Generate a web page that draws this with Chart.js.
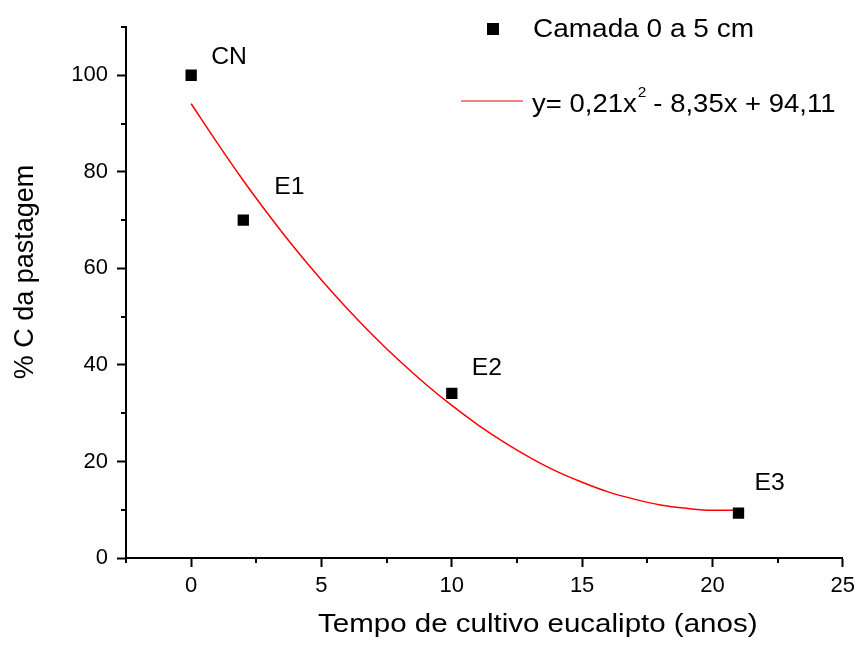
<!DOCTYPE html>
<html>
<head>
<meta charset="utf-8">
<script src="https://cdn.jsdelivr.net/npm/chart.js@4"></script>
<style>
  html, body { margin: 0; padding: 0; background: #fff; }
  #wrap { width: 861px; height: 646px; position: relative; }
</style>
</head>
<body>
<div id="wrap"><canvas id="chart"></canvas></div>
<script>
// measured points (anos, % C)
const pointX = [0, 2, 10, 21];
const pointY = [100, 70, 34.1, 9.3];
const pointLabels = ['CN', 'E1', 'E2', 'E3'];

// fitted curve
const curveX = [0, 1, 2, 3, 4, 5, 6, 7, 8, 9, 10, 11, 12, 13, 14, 15, 16, 17, 18, 19, 20, 21];
const curveY = [94.1, 86.0, 78.2, 70.9, 64.0, 57.6, 51.6, 46.0, 40.8, 36.0, 31.6, 27.6, 24.0, 20.8, 18.0, 15.7, 13.7, 12.2, 11.0, 10.3, 9.9, 9.9];

// tick positions
const xMajorTicks = [0, 5, 10, 15, 20, 25];
const yMajorTicks = [0, 20, 40, 60, 80, 100];
const xMinorTicks = [-2.5, 2.5, 7.5, 12.5, 17.5, 22.5];
const yMinorTicks = [10, 30, 50, 70, 90, 110];

const legendText = 'Camada 0 a 5 cm';
const xTitle = 'Tempo de cultivo eucalipto (anos)';
const yTitle = '% C da pastagem';

const FONT = '"Liberation Sans", Arial, sans-serif';
// label offsets from the point, px (dx, baseline dy)
const labelOffsets = [[20, -11], [31, -26], [20, -18], [16, -23]];

function stretchText(ctx, text, x, y, size, sx) {
    ctx.save();
    ctx.font = size + 'px ' + FONT;
    ctx.translate(x, y);
    ctx.scale(sx, 1);
    ctx.fillText(text, 0, 0);
    const w = ctx.measureText(text).width * sx;
    ctx.restore();
    return w;
}

const decorPlugin = {
    id: 'decor',
    afterDatasetsDraw(chart) {
        const ctx = chart.ctx;
        const xs = chart.scales.x, ys = chart.scales.y;
        const area = chart.chartArea;
        ctx.save();
        ctx.fillStyle = '#000';
        ctx.strokeStyle = '#000';
        ctx.textBaseline = 'alphabetic';
        ctx.textAlign = 'left';

        // minor ticks
        ctx.lineWidth = 2;
        ctx.beginPath();
        xMinorTicks.forEach(v => {
            const px = Math.round(xs.getPixelForValue(v));
            ctx.moveTo(px, area.bottom);
            ctx.lineTo(px, area.bottom + 5);
        });
        yMinorTicks.forEach(v => {
            const py = Math.round(ys.getPixelForValue(v));
            ctx.moveTo(area.left, py);
            ctx.lineTo(area.left - 5, py);
        });
        ctx.stroke();

        // point labels
        pointLabels.forEach((lab, i) => {
            const px = xs.getPixelForValue(pointX[i]);
            const py = ys.getPixelForValue(pointY[i]);
            stretchText(ctx, lab, px + labelOffsets[i][0], py + labelOffsets[i][1], 24, 1.03);
        });

        // legend
        ctx.fillRect(487, 23, 12, 12);
        stretchText(ctx, legendText, 533, 37, 25, 1.12);
        ctx.strokeStyle = '#ff0000';
        ctx.lineWidth = 1.2;
        ctx.beginPath();
        ctx.moveTo(461, 101);
        ctx.lineTo(523, 101);
        ctx.stroke();
        let w = stretchText(ctx, 'y= 0,21x', 532, 112, 25, 1.1);
        stretchText(ctx, '2', 532 + w + 1, 97, 14, 1.1);
        stretchText(ctx, ' - 8,35x + 94,11', 532 + w + 9, 112, 25, 1.1);

        // axis titles
        stretchText(ctx, xTitle, area.left + 192, 632, 25, 1.18);
        ctx.save();
        ctx.font = '27px ' + FONT;
        ctx.translate(33, 272);
        ctx.rotate(-Math.PI / 2);
        ctx.textAlign = 'center';
        ctx.fillText(yTitle, 0, 0);
        ctx.restore();

        ctx.restore();
    }
};

const pointData = pointX.map((x, i) => ({ x: x, y: pointY[i] }));
const curveData = curveX.map((x, i) => ({ x: x, y: curveY[i] }));

new Chart(document.getElementById('chart'), {
    type: 'scatter',
    data: {
        datasets: [{
            label: legendText,
            data: pointData,
            pointStyle: 'rect',
            pointRadius: 8,
            pointBorderWidth: 0,
            backgroundColor: '#000',
            borderColor: '#000',
            showLine: false
        }, {
            label: 'ajuste',
            data: curveData,
            showLine: true,
            pointRadius: 0,
            borderColor: '#ff0000',
            borderWidth: 1.5,
            cubicInterpolationMode: 'monotone',
            fill: false
        }]
    },
    options: {
        responsive: true,
        maintainAspectRatio: false,
        animation: false,
        layout: { padding: { top: 27, right: 14, left: 0, bottom: 0 } },
        plugins: {
            legend: { display: false },
            tooltip: { enabled: false }
        },
        scales: {
            x: {
                type: 'linear',
                min: -2.5,
                max: 25,
                afterFit: s => { s.height = 88; },
                afterBuildTicks: s => { s.ticks = xMajorTicks.map(v => ({ value: v })); },
                ticks: {
                    color: '#000',
                    padding: 6,
                    maxRotation: 0,
                    autoSkip: false,
                    font: { family: FONT, size: 22 }
                },
                grid: {
                    drawOnChartArea: false,
                    tickLength: 9,
                    tickWidth: 2,
                    tickColor: '#000'
                },
                border: { display: true, color: '#000', width: 2 }
            },
            y: {
                min: 0,
                max: 110,
                afterFit: s => { s.width = 126; },
                afterBuildTicks: s => { s.ticks = yMajorTicks.map(v => ({ value: v })); },
                ticks: {
                    color: '#000',
                    padding: 9,
                    autoSkip: false,
                    font: { family: FONT, size: 22 }
                },
                grid: {
                    drawOnChartArea: false,
                    tickLength: 9,
                    tickWidth: 2,
                    tickColor: '#000'
                },
                border: { display: true, color: '#000', width: 2 }
            }
        }
    },
    plugins: [decorPlugin]
});
</script>
</body>
</html>
